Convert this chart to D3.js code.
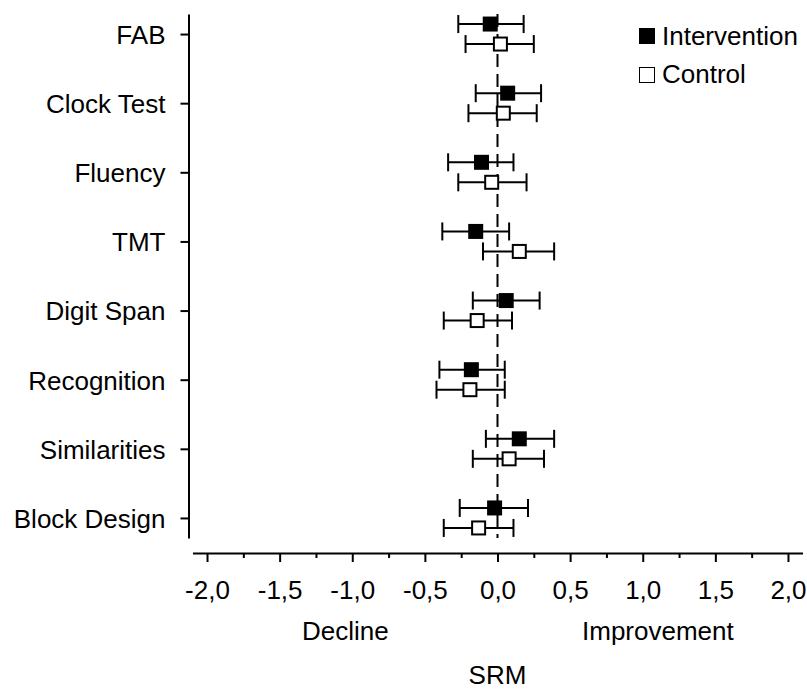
<!DOCTYPE html>
<html>
<head>
<meta charset="utf-8">
<script src="https://cdn.jsdelivr.net/npm/d3@7"></script>
<style>
  body { margin: 0; background: #fff; }
  svg text { font-family: "Liberation Sans", Arial, sans-serif; font-size: 26px; fill: #000; }
</style>
</head>
<body>
<svg id="chart" width="807" height="690"></svg>
<script>
// tests on the y axis, top to bottom
const tests = ["FAB", "Clock Test", "Fluency", "TMT", "Digit Span", "Recognition", "Similarities", "Block Design"];

// SRM with confidence limits
const intMean  = [-0.05, 0.07, -0.11, -0.15, 0.06, -0.18, 0.15, -0.02];
const intLow   = [-0.27, -0.15, -0.34, -0.38, -0.17, -0.40, -0.08, -0.26];
const intHigh  = [0.18, 0.30, 0.11, 0.08, 0.29, 0.05, 0.39, 0.21];
const ctrlMean = [0.02, 0.04, -0.04, 0.15, -0.14, -0.19, 0.08, -0.13];
const ctrlLow  = [-0.22, -0.20, -0.27, -0.10, -0.37, -0.42, -0.17, -0.37];
const ctrlHigh = [0.25, 0.27, 0.20, 0.39, 0.10, 0.05, 0.32, 0.11];

const majorTicks = [-2, -1.5, -1, -0.5, 0, 0.5, 1, 1.5, 2];
const minorTicks = [-1.75, -1.25, -0.75, -0.25, 0.25, 0.75, 1.25, 1.75];

const svg = d3.select("#chart");

const xScale = d3.scaleLinear().domain([-2.1, 2.1]).range([192.5, 802.5]);
const yScale = d3.scalePoint().domain(tests).range([14, 538]).padding(0.29);

const axisY = 553;
// decimal comma, plain hyphen for minus
const comma = d3.formatLocale({ decimal: ",", thousands: ".", grouping: [3], currency: ["", ""], minus: "-" }).format(".1f");

// dashed zero line
svg.append("line")
  .attr("x1", xScale(0)).attr("x2", xScale(0))
  .attr("y1", 14).attr("y2", 538)
  .attr("stroke", "#000")
  .attr("stroke-width", 2)
  .attr("stroke-dasharray", "13,7");

// y axis
const gy = svg.append("g")
  .attr("transform", "translate(188.5,0)")
  .call(d3.axisLeft(yScale).tickSize(8).tickSizeOuter(0).tickPadding(15));
gy.select(".domain").attr("stroke-width", 2);
gy.selectAll(".tick line").attr("stroke-width", 2);
gy.selectAll(".tick text").attr("font-size", null).attr("font-family", null).attr("dy", "0.36em");

// x axis, major and minor ticks
const gx = svg.append("g")
  .attr("transform", `translate(0,${axisY})`)
  .call(d3.axisBottom(xScale).tickValues(majorTicks).tickFormat(comma).tickSize(9).tickSizeOuter(0).tickPadding(19));
gx.select(".domain").attr("stroke-width", 2);
gx.selectAll(".tick line").attr("stroke-width", 2);
gx.selectAll(".tick text").attr("font-size", null).attr("font-family", null);

const gxMinor = svg.append("g")
  .attr("transform", `translate(0,${axisY})`)
  .call(d3.axisBottom(xScale).tickValues(minorTicks).tickFormat("").tickSize(5).tickSizeOuter(0));
gxMinor.select(".domain").remove();
gxMinor.selectAll(".tick line").attr("stroke-width", 2);

// build series rows
var groups = [
  { name: "Intervention", fill: "#000", offset: -10, mean: intMean, low: intLow, high: intHigh },
  { name: "Control", fill: "#fff", offset: 10, mean: ctrlMean, low: ctrlLow, high: ctrlHigh }
];

const capH = 9;
const box = 13;

groups.forEach(function (g) {
  var rows = tests.map((t, i) => ({ t: t, m: g.mean[i], lo: g.low[i], hi: g.high[i] }));
  var layer = svg.append("g");

  layer.selectAll(".bar")
    .data(rows)
    .join("line")
    .attr("x1", d => xScale(d.lo)).attr("x2", d => xScale(d.hi))
    .attr("y1", d => yScale(d.t) + g.offset).attr("y2", d => yScale(d.t) + g.offset)
    .attr("stroke", "#000").attr("stroke-width", 2);

  ["lo", "hi"].forEach(function (k) {
    layer.selectAll(".cap-" + k)
      .data(rows)
      .join("line")
      .attr("x1", d => xScale(d[k])).attr("x2", d => xScale(d[k]))
      .attr("y1", d => yScale(d.t) + g.offset - capH)
      .attr("y2", d => yScale(d.t) + g.offset + capH)
      .attr("stroke", "#000").attr("stroke-width", 2);
  });

  layer.selectAll("rect")
    .data(rows)
    .join("rect")
    .attr("x", d => xScale(d.m) - box / 2)
    .attr("y", d => yScale(d.t) + g.offset - box / 2)
    .attr("width", box)
    .attr("height", box)
    .attr("fill", g.fill)
    .attr("stroke", "#000")
    .attr("stroke-width", 2);
});

// legend
var leg = svg.append("g");
leg.selectAll("rect")
  .data(groups)
  .join("rect")
  .attr("x", 639.5)
  .attr("y", (d, i) => 28.5 + i * 39)
  .attr("width", 15)
  .attr("height", 15)
  .attr("fill", d => d.fill)
  .attr("stroke", "#000")
  .attr("stroke-width", 1);
leg.selectAll("text")
  .data(groups)
  .join("text")
  .attr("x", 662)
  .attr("y", (d, i) => 45 + i * 38)
  .text(d => d.name);

// axis captions
svg.append("text").attr("x", 302).attr("y", 640).text("Decline");
svg.append("text").attr("x", 582).attr("y", 640).text("Improvement");
svg.append("text").attr("x", xScale(0)).attr("y", 684).attr("text-anchor", "middle").text("SRM");
</script>
</body>
</html>
